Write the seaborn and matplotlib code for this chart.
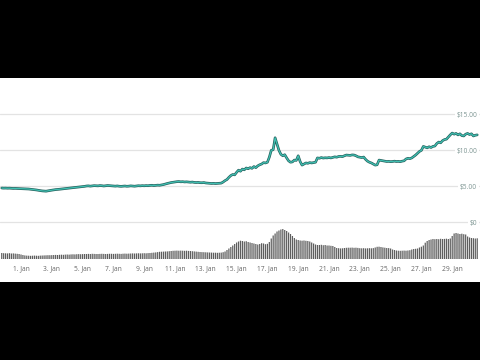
import numpy as np
import pandas as pd
import matplotlib
matplotlib.use("Agg")
import matplotlib.pyplot as plt
import matplotlib.patheffects as pe
from matplotlib.patches import Rectangle
from matplotlib.transforms import blended_transform_factory
import seaborn as sns

# ---------------- data (3-hourly samples) ----------------
first_sample = "2017-12-30 18:00"
sample_freq = "3h"

price = [
    4.72, 4.70,
    4.71, 4.69, 4.70, 4.68, 4.66, 4.67, 4.65, 4.64,
    4.63, 4.62, 4.60, 4.61, 4.58, 4.55, 4.52, 4.48,
    4.45, 4.40, 4.36, 4.32, 4.30, 4.28, 4.33, 4.38,
    4.42, 4.46, 4.50, 4.52, 4.55, 4.58, 4.62, 4.64,
    4.66, 4.70, 4.72, 4.76, 4.80, 4.82, 4.85, 4.88,
    4.90, 4.95, 5.00, 5.02, 4.98, 5.01, 5.05, 5.03,
    5.02, 5.06, 5.04, 5.00, 5.03, 5.07, 5.05, 5.02,
    5.00, 4.98, 5.01, 4.97, 4.95, 4.98, 5.00, 4.96,
    4.98, 5.02, 5.00, 4.97, 5.01, 5.04, 5.02, 5.05,
    5.03, 5.06, 5.04, 5.08, 5.10, 5.06, 5.09, 5.12,
    5.10, 5.15, 5.20, 5.28, 5.35, 5.42, 5.48, 5.52,
    5.55, 5.60, 5.62, 5.58, 5.60, 5.56, 5.58, 5.55,
    5.52, 5.55, 5.50, 5.48, 5.50, 5.46, 5.45, 5.48,
    5.42, 5.40, 5.38, 5.35, 5.37, 5.34, 5.36, 5.38,
    5.40, 5.55, 5.75, 5.90, 6.20, 6.45, 6.60, 6.55,
    6.90, 7.20, 7.05, 7.35, 7.25, 7.50, 7.40, 7.55,
    7.45, 7.70, 7.55, 7.80, 7.95, 8.05, 8.25, 8.20,
    8.30, 9.00, 9.95, 10.05, 11.70, 10.80, 9.95, 9.40,
    9.20, 9.35, 8.90, 8.50, 8.30, 8.35, 8.60, 8.55,
    9.20, 8.40, 7.90, 8.05, 8.20, 8.15, 8.25, 8.20,
    8.25, 8.30, 8.90, 8.85, 8.95, 8.88, 8.92, 8.90,
    8.95, 8.90, 8.98, 9.05, 9.00, 9.10, 9.12, 9.08,
    9.20, 9.30, 9.28, 9.25, 9.32, 9.30, 9.20, 9.05,
    9.00, 8.95, 9.02, 8.70, 8.45, 8.30, 8.20, 8.05,
    7.90, 7.95, 8.60, 8.55, 8.50, 8.45, 8.40, 8.42,
    8.38, 8.40, 8.45, 8.40, 8.42, 8.38, 8.45, 8.50,
    8.75, 8.85, 8.80, 8.90, 9.10, 9.30, 9.55, 9.80,
    9.95, 10.50, 10.40, 10.30, 10.45, 10.35, 10.50, 10.55,
    10.90, 11.10, 11.00, 11.30, 11.45, 11.50, 11.80, 12.10,
    12.35, 12.20, 12.30, 12.10, 12.25, 12.00, 11.95, 12.20,
    12.30, 12.15, 12.25, 11.95, 12.05, 12.10,
]

volume = [
    6.0, 5.8,
    5.7, 5.6, 5.8, 5.5, 5.6, 5.4, 5.2, 5.0,
    4.5, 4.0, 3.6, 3.4, 3.3, 3.2, 3.3, 3.4,
    3.3, 3.2, 3.4, 3.5, 3.6, 3.7, 3.8, 3.8,
    3.9, 4.0, 4.1, 4.0, 4.2, 4.3, 4.2, 4.4,
    4.5, 4.4, 4.6, 4.7, 4.6, 4.8, 4.9, 4.8,
    4.9, 5.0, 5.0, 5.1, 5.0, 5.2, 5.1, 5.0,
    5.0, 5.1, 5.2, 5.1, 5.0, 5.1, 5.2, 5.2,
    5.1, 5.2, 5.3, 5.2, 5.1, 5.3, 5.4, 5.3,
    5.4, 5.5, 5.6, 5.5, 5.6, 5.7, 5.6, 5.7,
    5.8, 5.7, 5.9, 6.0, 6.2, 6.4, 6.6, 6.9,
    7.2, 7.3, 7.4, 7.5, 7.6, 7.8, 8.0, 8.2,
    8.3, 8.4, 8.3, 8.4, 8.3, 8.2, 8.3, 8.1,
    8.0, 7.8, 7.6, 7.4, 7.2, 7.0, 6.9, 6.8,
    6.7, 6.6, 6.5, 6.4, 6.3, 6.3, 6.2, 6.3,
    6.4, 6.8, 7.5, 9.0, 10.5, 12.0, 13.5, 15.0,
    16.5, 17.5, 18.3, 18.0, 17.5, 17.8, 17.0, 16.5,
    16.0, 15.5, 15.0, 14.5, 15.0, 15.8, 15.5, 14.8,
    15.2, 17.0, 20.5, 23.5, 25.5, 27.5, 28.5, 29.5,
    30.0, 29.0, 28.0, 26.5, 25.0, 23.0, 21.0, 19.5,
    19.0, 18.5, 18.3, 18.5, 18.2, 18.0, 17.5, 16.5,
    15.5, 14.5, 14.0, 14.0, 14.2, 13.8, 14.0, 13.5,
    13.5, 13.2, 13.0, 12.0, 11.0, 10.8, 10.6, 10.7,
    11.0, 11.2, 11.3, 11.3, 11.4, 11.2, 11.3, 11.1,
    10.8, 10.7, 10.8, 10.6, 10.7, 10.8, 10.7, 10.9,
    11.5, 12.2, 12.3, 12.0, 11.6, 11.3, 11.0, 10.9,
    10.5, 9.5, 9.0, 8.5, 8.3, 8.2, 8.3, 8.4,
    8.3, 8.5, 8.8, 9.5, 10.0, 10.2, 10.5, 11.5,
    12.3, 13.5, 16.3, 18.0, 19.0, 19.5, 20.0, 19.8,
    20.0, 19.8, 20.2, 20.0, 20.1, 20.3, 20.0, 20.5,
    23.0, 25.5, 26.0, 25.5, 25.0, 25.3, 24.8, 24.5,
    22.5, 21.5, 21.0, 20.8, 20.5, 20.7,
]

tick_dates = ["2018-01-%02d" % d for d in range(1, 30, 2)]
tick_labels = ["%d. Jan" % d for d in range(1, 30, 2)]
price_levels = [0, 5, 10, 15]
price_labels = ["$0", "$5.00", "$10.00", "$15.00"]

# ---------------- figure ----------------
sns.set_style("white")
plt.rcParams["font.family"] = ["Open Sans", "DejaVu Sans"]

times = pd.date_range(first_sample, periods=len(price), freq=sample_freq)
df = pd.DataFrame({"time": times, "price": price, "volume": volume})

W, H = 480, 360
fig = plt.figure(figsize=(W / 100, H / 100), dpi=100, facecolor="white")

# black letterbox bands
fig.patches.append(Rectangle((0, 0), 1, (H - 282) / H, transform=fig.transFigure,
                             facecolor="black", edgecolor="none", zorder=0))
fig.patches.append(Rectangle((0, (H - 78) / H), 1, 78 / H, transform=fig.transFigure,
                             facecolor="black", edgecolor="none", zorder=0))

top_px, base_px = 78, 259
ax = fig.add_axes([0, (H - base_px) / H, 1, (base_px - top_px) / H])
ax.set_facecolor("white")

# price scale: $0 at y=222px, 7.2 px per dollar
ax.set_ylim((222 - base_px) / 7.2, (222 - top_px) / 7.2)
jan1 = pd.Timestamp("2018-01-01")
px_per_day = 15.4
ax.set_xlim(jan1 - pd.Timedelta(days=21 / px_per_day),
            jan1 + pd.Timedelta(days=(W - 21) / px_per_day))

# gridlines + right labels
trans = blended_transform_factory(ax.transAxes, ax.transData)
for lvl, lab in zip(price_levels, price_labels):
    ax.axhline(lvl, color="#e3e3e3", lw=0.9, zorder=1)
    ax.text(0.994, lvl, lab, transform=trans, ha="right", va="center_baseline",
            fontsize=4.8, color="#7d9592", zorder=2,
            bbox=dict(facecolor="white", edgecolor="none", pad=1.2))

# volume on twin axis
ax2 = ax.twinx()
ax2.set_ylim(0, base_px - top_px)
ax2.bar(df["time"], df["volume"], width=0.08, color="#5e5e5e", linewidth=0,
        zorder=2, snap=False)
ax2.set_yticks([])
for s in ax2.spines.values():
    s.set_visible(False)
ax2.patch.set_visible(False)

# price line (on top)
ax.set_zorder(ax2.get_zorder() + 1)
ax.patch.set_visible(False)
sns.lineplot(data=df, x="time", y="price", ax=ax, color="#40c0b2", lw=0.9,
             path_effects=[pe.Stroke(linewidth=1.9, foreground="#24605c"), pe.Normal()],
             zorder=3)

ax.set_xticks(pd.to_datetime(tick_dates))
ax.set_xticklabels(tick_labels)
ax.tick_params(axis="x", length=3, width=0.6, color="#c8c8c8", pad=1.5,
               labelsize=4.8, labelcolor="#666666", direction="out")
ax.set_yticks([])
ax.set_xlabel("")
ax.set_ylabel("")
for s in ax.spines.values():
    s.set_visible(False)

fig.savefig("out.png", dpi=100, facecolor="white")
